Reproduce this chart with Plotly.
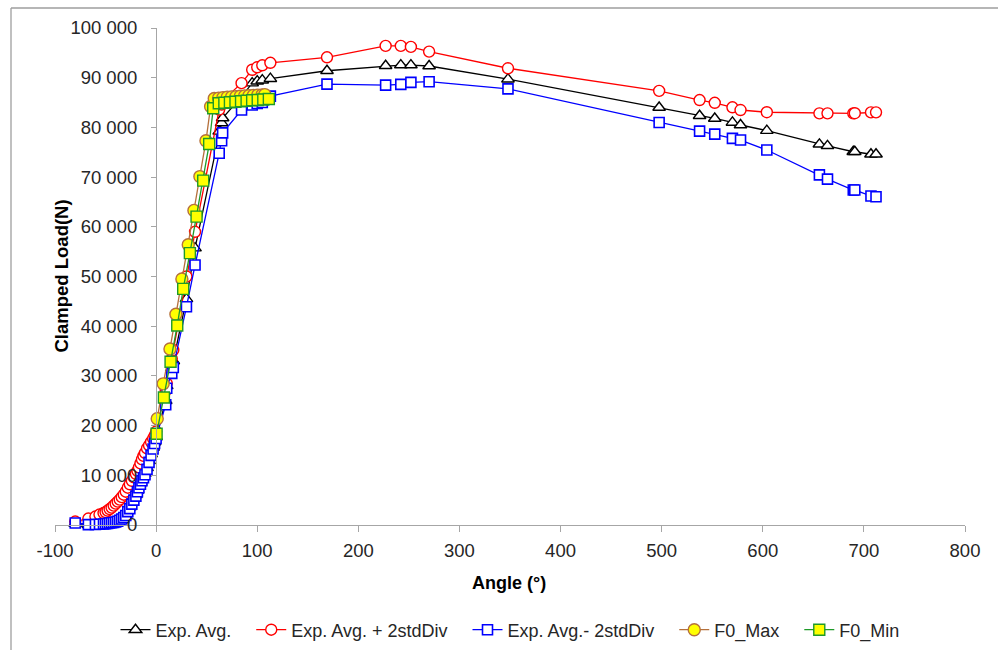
import plotly.graph_objects as go

# ---------------- data ----------------
angle = [-80, -67, -60, -56, -52, -50, -48, -46, -44, -42, -40, -38, -36, -34, -32, -30,
         -28, -26, -24, -22, -20, -18.5, -17, -15.5, -14, -12.5, -11, -9, -7, -5, -3, -1.5, 0,
         9.5, 10.5, 15.5, 17, 30, 38.5, 62.4, 64.8, 65.8, 84.5, 95, 100, 105, 113,
         169, 227, 242, 252, 270, 348, 497.5, 537.5, 552.5, 570, 578, 604,
         656, 664, 689.5, 691, 707, 712]

exp_avg = [300, 50, 0, 0, 50, 100, 150, 250, 350, 450, 600, 800, 1000, 1300, 1700, 2100,
           3000, 3600, 4500, 5300, 6100, 7000, 7800, 8500, 9200, 9800, 10400, 11500, 12900, 14300, 15600, 16700, 17700,
           25000, 28000, 31500, 33000, 45500, 55700, 79200, 80900, 81900, 86200, 88900, 89300, 89500, 89800,
           91400, 92400, 92550, 92550, 92350, 89700, 84000, 82350, 81800, 81000, 80480, 79350,
           76600, 76300, 75100, 75100, 74600, 74600]

exp_plus = [700, 1300, 1700, 2100, 2400, 2600, 2900, 3200, 3500, 3900, 4300, 4700, 5100, 5600, 6100, 6700,
            7500, 8200, 8900, 9600, 10300, 10900, 11600, 12400, 13200, 13900, 14500, 15400, 16000, 16700, 17400, 18000, 18800,
            27000, 28500, 33500, 35200, 50000, 59000, 83600, 84600, 85400, 88900, 91600, 92100, 92500, 93000,
            94100, 96400, 96400, 96200, 95250, 91900, 87350, 85500, 84950, 84050, 83500, 83050,
            82830, 82830, 82830, 82850, 83030, 83030]

exp_minus = [400, 80, 100, 150, 200, 250, 300, 400, 450, 500, 600, 750, 950, 1200, 1500, 1900,
             2700, 3300, 4200, 5000, 5800, 6700, 7500, 8200, 8900, 9500, 10100, 11200, 12600, 14000, 15300, 16400, 17400,
             24200, 27500, 30500, 31700, 43900, 52300, 74800, 77300, 78900, 83500, 84500, 84800, 85000, 86300,
             88700, 88500, 88650, 89050, 89200, 87750, 81000, 79250, 78650, 77800, 77450, 75450,
             70450, 69600, 67400, 67400, 66200, 66050]

f0max_angle = [1.1, 7, 13.7, 19.6, 25.5, 31.8, 37.4, 43.3, 49.3, 53.9,
               57.5, 61.8, 66.1, 70.4, 74.7, 79, 83.3, 87.6, 91.9, 96.2, 100.5, 104.8, 107.5]
f0max_load = [21400, 28400, 35400, 42400, 49500, 56400, 63300, 70100, 77300, 84200,
              85800, 85900, 86000, 86100, 86150, 86200, 86300, 86350, 86400, 86450, 86500, 86550, 86600]

f0min_angle = [0.5, 7.7, 14.3, 20.9, 26.8, 33.4, 40, 46.6, 52.5, 56.5,
               62, 67.5, 73, 78.5, 84, 89.5, 95, 100.5, 106, 111.5]
f0min_load = [18350, 25650, 32850, 40150, 47500, 54700, 62050, 69300, 76650, 83850,
              84850, 84950, 85050, 85150, 85250, 85350, 85450, 85500, 85600, 85700]

x_ticks = [-100, 0, 100, 200, 300, 400, 500, 600, 700, 800]
x_tick_text = ["-100", "0", "100", "200", "300", "400", "500", "600", "700", "800"]
y_ticks = [0, 10000, 20000, 30000, 40000, 50000, 60000, 70000, 80000, 90000, 100000]

# ---------------- figure ----------------
FONT = "Liberation Sans"
fig = go.Figure()

def add(x, y, name, lc, sym, fill, size, lw=1.3, mlw=1.4):
    fig.add_trace(go.Scatter(
        x=x, y=y, name=name, mode="lines+markers", cliponaxis=False,
        line=dict(color=lc, width=lw),
        marker=dict(symbol=sym, size=size, color=fill, line=dict(color=lc, width=mlw)),
    ))

add(angle, exp_avg, "Exp. Avg.\u00a0\u00a0\u00a0", "#000000", "triangle-up", "white", 11)
add(angle, exp_plus, "Exp. Avg. + 2stdDiv\u00a0\u00a0\u00a0", "#FF0000", "circle", "white", 11)
add(angle, exp_minus, "Exp. Avg.- 2stdDiv\u00a0\u00a0\u00a0", "#0000FF", "square", "white", 10, mlw=1.6)
add(f0max_angle, f0max_load, "F0_Max\u00a0\u00a0\u00a0", "#B5703C", "circle", "#FFFF00", 12)
add(f0min_angle, f0min_load, "F0_Min", "#1E9A28", "square", "#FFFF00", 11)

# plot area in pixels: x -100..800 -> 55..965, y 0..100000 -> 525..28
L, R, T, B = 55, 33, 28, 125
PW = 998 - L - R
PH = 650 - T - B

axis_col = "#A6A6A6"
fig.update_layout(
    width=998, height=650,
    margin=dict(l=L, r=R, t=T, b=B, autoexpand=False),
    plot_bgcolor="white", paper_bgcolor="white",
    separators=". ",
    font=dict(family=FONT, size=18, color="#262626"),
    showlegend=True,
    legend=dict(orientation="h", x=0.5, xanchor="center", y=(525 - 630) / PH, yanchor="middle",
                font=dict(family=FONT, size=18, color="#262626"), itemwidth=30,
                bgcolor="rgba(0,0,0,0)"),
    xaxis=dict(range=[-100, 800], tickvals=x_ticks, ticktext=x_tick_text,
               showline=True, linecolor=axis_col, linewidth=1.3,
               ticks="outside", ticklen=6, tickcolor=axis_col, tickwidth=1.3,
               showgrid=False, zeroline=False, ticklabelstandoff=3, automargin=False,
               tickfont=dict(family=FONT, size=18.5, color="#262626")),
    yaxis=dict(range=[0, 100000], tickvals=y_ticks, tickformat=",d",
               anchor="free", position=100 / 900, automargin=False,
               showline=True, linecolor=axis_col, linewidth=1.3,
               ticks="outside", ticklen=5, tickcolor=axis_col, tickwidth=1.3,
               showgrid=False, zeroline=False, ticklabelstandoff=10,
               tickfont=dict(family=FONT, size=18.5, color="#262626")),
)

fig.add_annotation(text="<b>Clamped Load(N)</b>", xref="paper", yref="paper",
                   x=(61 - L) / PW, y=0.5, textangle=-90, showarrow=False,
                   xanchor="center", yanchor="middle",
                   font=dict(family=FONT, size=18.5, color="#000000"))
fig.add_annotation(text="<b>Angle (°)</b>", xref="paper", yref="paper",
                   x=(509 - L) / PW, y=(525 - 583) / PH, showarrow=False,
                   xanchor="center", yanchor="middle",
                   font=dict(family=FONT, size=18, color="#000000"))

# outer chart-area border (top and left edges visible)
bx0 = (11 - L) / PW
by1 = (525 - 8) / PH
fig.add_shape(type="line", xref="paper", yref="paper", x0=bx0, x1=1.2, y0=by1, y1=by1,
              line=dict(color="#9E9E9E", width=1.3))
fig.add_shape(type="line", xref="paper", yref="paper", x0=bx0, x1=bx0, y0=by1, y1=-0.4,
              line=dict(color="#9E9E9E", width=1.3))

fig.write_html("out.html")
